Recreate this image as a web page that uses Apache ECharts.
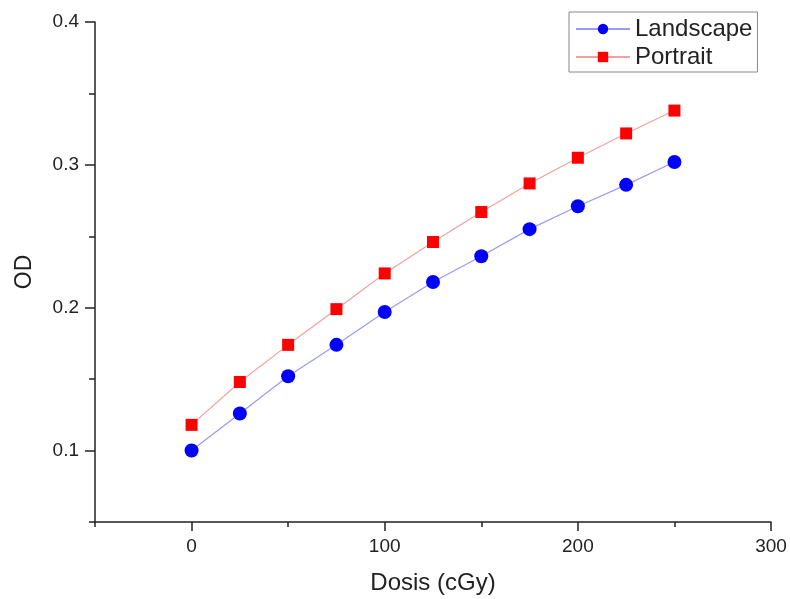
<!DOCTYPE html>
<html>
<head>
<meta charset="utf-8">
<script src="https://cdn.jsdelivr.net/npm/echarts@6/dist/echarts.min.js"></script>
<style>
  html, body { margin: 0; padding: 0; background: #fff; }
  #chart { width: 790px; height: 599px; }
</style>
</head>
<body>
<div id="chart"></div>
<script>
// dose (cGy) and optical density
const doses = [0, 25, 50, 75, 100, 125, 150, 175, 200, 225, 250];
const landscape = [0.100, 0.126, 0.152, 0.174, 0.197, 0.218, 0.236, 0.255, 0.271, 0.286, 0.302];
const portrait = [0.118, 0.148, 0.174, 0.199, 0.224, 0.246, 0.267, 0.287, 0.305, 0.322, 0.338];

const xMajor = [0, 100, 200, 300];
const xMinor = [-50, 50, 150, 250];
const yMajor = [0.1, 0.2, 0.3, 0.4];
const yMinor = [0.05, 0.15, 0.25, 0.35];

const FONT = "Liberation Sans, Arial, sans-serif";
const INK = "#222";

const pairs = (ys) => doses.map((d, i) => [d, ys[i]]);

function xAxisDef(ticks, len, withLabels) {
  return {
    type: "value", min: -50, max: 300, gridIndex: 0, position: "bottom", offset: 0,
    splitLine: { show: false },
    axisLine: { show: withLabels, onZero: false, lineStyle: { color: INK, width: 1.5 } },
    axisTick: { show: true, length: len, customValues: ticks, lineStyle: { color: INK, width: 1.5 } },
    axisLabel: withLabels
      ? { show: true, customValues: ticks, margin: 15, color: INK, fontSize: 19, fontFamily: FONT }
      : { show: false },
    name: withLabels ? "Dosis (cGy)" : "",
    nameLocation: "middle", nameGap: 49,
    nameTextStyle: { color: INK, fontSize: 24, fontFamily: FONT },
  };
}
function yAxisDef(ticks, len, withLabels) {
  return {
    type: "value", min: 0.05, max: 0.4, gridIndex: 0, position: "left", offset: 0,
    splitLine: { show: false },
    axisLine: { show: withLabels, onZero: false, lineStyle: { color: INK, width: 1.5 } },
    axisTick: { show: true, length: len, customValues: ticks, lineStyle: { color: INK, width: 1.5 } },
    axisLabel: withLabels
      ? { show: true, customValues: ticks, margin: 16, color: INK, fontSize: 19, fontFamily: FONT,
          formatter: (v) => v.toFixed(1) }
      : { show: false },
    name: withLabels ? "OD" : "",
    nameLocation: "middle", nameGap: 59, nameRotate: 90,
    nameTextStyle: { color: INK, fontSize: 23, fontFamily: FONT },
  };
}

const chart = echarts.init(document.getElementById("chart"), null, { renderer: "canvas" });
chart.setOption({
  animation: false,
  backgroundColor: "#fff",
  grid: { left: 95, right: 19, top: 22, bottom: 77, containLabel: false, outerBoundsMode: "none" },
  xAxis: [xAxisDef(xMajor, 9, true), xAxisDef(xMinor, 5, false)],
  yAxis: [yAxisDef(yMajor, 10, true), yAxisDef(yMinor, 6, false)],
  legend: {
    left: 569, top: 12, orient: "vertical",
    backgroundColor: "#fff", borderColor: "#888", borderWidth: 1, borderRadius: 0,
    padding: [5, 5, 3, 6], itemGap: 4, itemWidth: 54, itemHeight: 13,
    textStyle: { color: INK, fontSize: 24, fontFamily: FONT },
    data: ["Landscape", "Portrait"],
  },
  series: [
    {
      name: "Landscape", type: "line", data: pairs(landscape),
      symbol: "circle", symbolSize: 14,
      itemStyle: { color: "#0000ff" },
      lineStyle: { color: "#9a9af0", width: 1.2 },
    },
    {
      name: "Portrait", type: "line", data: pairs(portrait),
      symbol: "rect", symbolSize: 12,
      itemStyle: { color: "#ff0000" },
      lineStyle: { color: "#f2a0a0", width: 1.2 },
    },
  ],
});
</script>
</body>
</html>
